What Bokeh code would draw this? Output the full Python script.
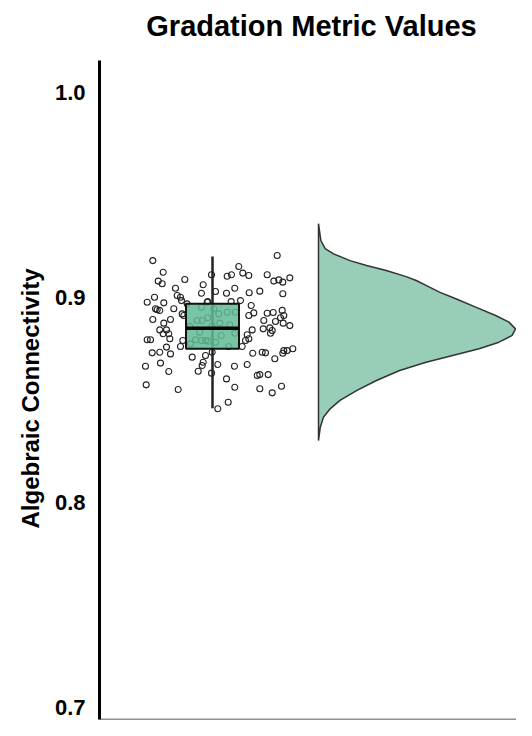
from bokeh.plotting import figure
from bokeh.models import Range1d, FixedTicker, PrintfTickFormatter, Span, Label, Title
from bokeh.embed import file_html
from bokeh.resources import INLINE

# ---------------- data ----------------
title_text = "Gradation Metric Values"
y_label = "Algebraic Connectivity"
y_ticks = [0.7, 0.8, 0.9, 1.0]

# jittered observations: horizontal jitter offset (category units) and value
jitter = [0.647, -0.597, -0.493, 0.263, -0.010, 0.147, 0.190, 0.303, 0.363, 0.547,
          -0.543, -0.503, -0.277, -0.093, 0.613, 0.663, 0.703, 0.773, -0.370, 0.223,
          -0.353, -0.320, -0.110, 0.030, 0.140, 0.367, 0.473, 0.703, -0.580, -0.310,
          -0.653, -0.487, -0.047, 0.187, 0.280, 0.387, -0.570, -0.527, -0.553, -0.387,
          -0.303, -0.287, 0.413, 0.363, 0.547, 0.607, 0.697, 0.713, 0.680, -0.597,
          -0.420, -0.487, 0.513, 0.630, 0.707, 0.773, -0.527, -0.460, -0.493, -0.437,
          0.397, 0.507, 0.573, 0.597, 0.580, 0.347, 0.363, -0.427, -0.653, -0.620,
          -0.297, 0.330, -0.460, -0.320, 0.297, -0.603, -0.527, -0.420, 0.403, 0.497,
          0.530, 0.713, 0.747, 0.803, 0.703, -0.203, -0.070, 0.623, -0.093, -0.103,
          -0.520, -0.670, 0.053, 0.220, 0.347, -0.437, -0.143, -0.010, 0.447, 0.473,
          0.557, 0.140, -0.663, -0.343, 0.223, 0.473, 0.690, 0.597, 0.157, 0.053,
          -0.110, 0.013, 0.063, 0.147, 0.230, -0.153, -0.103, -0.047, 0.073, -0.227,
          -0.003, 0.173, -0.127, -0.170, -0.110, -0.070, -0.043, 0.087, 0.223, -0.220,
          0.030, 0.163, -0.003, -0.053, -0.253]
values = [0.9205, 0.9180, 0.9123, 0.9151, 0.9111, 0.9104, 0.9111, 0.9119, 0.9107, 0.9111,
          0.9080, 0.9067, 0.9088, 0.9062, 0.9080, 0.9086, 0.9075, 0.9096, 0.9045, 0.9045,
          0.9010, 0.9001, 0.9021, 0.9029, 0.9021, 0.9023, 0.9031, 0.9018, 0.9001, 0.8985,
          0.8977, 0.8974, 0.8980, 0.8980, 0.8985, 0.8961, 0.8945, 0.8937, 0.8940, 0.8945,
          0.8920, 0.8912, 0.8925, 0.8912, 0.8923, 0.8927, 0.8937, 0.8912, 0.8901, 0.8893,
          0.8893, 0.8875, 0.8888, 0.8883, 0.8875, 0.8863, 0.8842, 0.8842, 0.8823, 0.8823,
          0.8842, 0.8847, 0.8852, 0.8839, 0.8826, 0.8818, 0.8799, 0.8799, 0.8794, 0.8794,
          0.8790, 0.8790, 0.8758, 0.8761, 0.8761, 0.8730, 0.8733, 0.8725, 0.8728, 0.8733,
          0.8730, 0.8741, 0.8741, 0.8750, 0.8728, 0.8709, 0.8717, 0.8701, 0.8684, 0.8668,
          0.8680, 0.8665, 0.8673, 0.8665, 0.8673, 0.8639, 0.8640, 0.8631, 0.8620, 0.8624,
          0.8624, 0.8603, 0.8574, 0.8551, 0.8562, 0.8555, 0.8567, 0.8535, 0.8489, 0.8457,
          0.8953, 0.8945, 0.8920, 0.8928, 0.8928, 0.8888, 0.8888, 0.8901, 0.8875, 0.8859,
          0.8862, 0.8867, 0.8831, 0.8794, 0.8790, 0.8790, 0.8787, 0.8815, 0.8826, 0.8774,
          0.8782, 0.8761, 0.8733, 0.8977, 0.8969]

# box-plot summary
q1, median, q3 = 0.875, 0.885, 0.897
whisker_low, whisker_high = 0.846, 0.920

# half-violin outline: value levels and relative density (max = 1)
violin_y = [0.9360, 0.9278, 0.9238, 0.9213, 0.9180, 0.9156, 0.9132, 0.9102, 0.9083, 0.9059,
            0.9026, 0.8994, 0.8953, 0.8912, 0.8880, 0.8847, 0.8815, 0.8782, 0.8750, 0.8717,
            0.8684, 0.8644, 0.8595, 0.8546, 0.8498, 0.8457, 0.8416, 0.8367, 0.8302]
violin_density = [0.000, 0.012, 0.034, 0.076, 0.160, 0.244, 0.344, 0.445, 0.496, 0.546,
                  0.614, 0.697, 0.798, 0.899, 0.967, 1.000, 0.983, 0.916, 0.815, 0.681,
                  0.546, 0.412, 0.294, 0.193, 0.109, 0.059, 0.025, 0.009, 0.000]

# ---------------- styling ----------------
FONT = "Liberation Sans"
box_half = 0.265
violin_base = 1.06
violin_width = 1.97
y_start, y_end = 0.69415, 1.04488     # plotting area extends up to the canvas top
axis_top = 1.0156                     # where the drawn y-axis line stops
title_x, title_y = 0.99, 1.0322       # title anchor in the margin above the axis

p = figure(width=516, height=720, output_backend="svg", toolbar_location=None,
           x_range=Range1d(-1.13, 3.04), y_range=Range1d(y_start, y_end),
           min_border_left=99, min_border_right=0, min_border_top=0, min_border_bottom=1)

p.grid.visible = False
p.outline_line_color = None
p.background_fill_color = "white"

p.add_layout(Label(x=title_x, y=title_y, text=title_text, text_align="center",
                   text_baseline="alphabetic", text_font=FONT, text_font_size="29px",
                   text_font_style="bold", text_color="#000000"))

# y axis
p.yaxis.ticker = FixedTicker(ticks=y_ticks)
p.yaxis.formatter = PrintfTickFormatter(format="%.1f")
p.yaxis.bounds = (y_start, axis_top)
p.yaxis.major_label_text_font = FONT
p.yaxis.major_label_text_font_size = "22px"
p.yaxis.major_label_text_font_style = "bold"
p.yaxis.major_label_text_color = "#000000"
p.yaxis.major_label_standoff = 14
p.yaxis.major_tick_line_color = None
p.yaxis.minor_tick_line_color = None
p.yaxis.major_tick_out = 0
p.yaxis.major_tick_in = 0
p.yaxis.axis_line_width = 3
p.yaxis.axis_line_color = "#000000"

# y-axis title, centred on the drawn part of the axis
p.add_layout(Title(text=y_label, align="left", offset=191, standoff=16,
                   text_font=FONT, text_font_size="24px", text_font_style="bold",
                   text_color="#000000"), "left")

# x axis: only a thin baseline
p.xaxis.visible = False
p.add_layout(Span(location=y_start, dimension="width", line_color="#222222", line_width=1.5))

# half violin
vx = [violin_base + d * violin_width for d in violin_density] + [violin_base, violin_base]
vy = violin_y + [violin_y[-1], violin_y[0]]
p.patch(vx, vy, fill_color="#98cdb8", line_color="#333333", line_width=1.5)

# jittered points
p.scatter(jitter, values, size=6, fill_alpha=0, line_color="#222222", line_width=1.1)

# whisker
p.segment(x0=[0], y0=[whisker_low], x1=[0], y1=[whisker_high], line_color="#222222", line_width=2.5)

# box
p.quad(left=[-box_half], right=[box_half], bottom=[q1], top=[q3],
       fill_color="#5fbb94", fill_alpha=0.85, line_color="#111111", line_width=2)
p.segment(x0=[-box_half], y0=[median], x1=[box_half], y1=[median],
          line_color="#000000", line_width=3.5)

open("out.html", "w").write(file_html(p, INLINE))
